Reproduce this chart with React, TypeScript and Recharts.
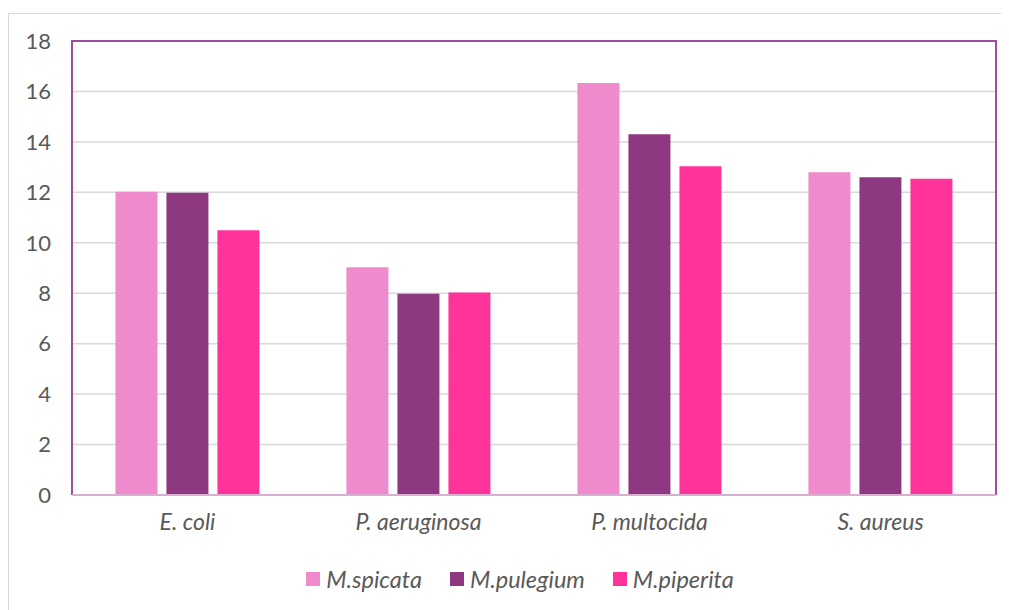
import React from "react";
import {
  BarChart,
  Bar,
  XAxis,
  YAxis,
  CartesianGrid,
  ReferenceArea,
} from "recharts";

// Inhibition zones per bacterium for three Mentha essential oils
const categories = ["E. coli", "P. aeruginosa", "P. multocida", "S. aureus"];
const spicata = [12.02, 9.03, 16.33, 12.8];
const pulegium = [11.98, 7.98, 14.3, 12.6];
const piperita = [10.5, 8.03, 13.03, 12.54];
const yTicks = [0, 2, 4, 6, 8, 10, 12, 14, 16, 18];

const seriesNames = ["M.spicata", "M.pulegium", "M.piperita"];
const seriesKeys = ["spicata", "pulegium", "piperita"];
const seriesColors = ["#EF8ACC", "#8E3882", "#FF3399"];

const data = categories.map((name, i) => ({
  name,
  spicata: spicata[i],
  pulegium: pulegium[i],
  piperita: piperita[i],
}));

const FONT = "Lato, 'Open Sans', sans-serif";
const TEXT = "#595959";
const FRAME = "#9E4E9E";
const FS = 22;

// Plot frame: left, top and right edges (the bottom is the x axis line)
const FrameShape = (props: any) => {
  const { x, y, width, height } = props;
  return (
    <path
      d={`M${x},${y + height} L${x},${y} L${x + width},${y} L${x + width},${y + height}`}
      fill="none"
      stroke={FRAME}
      strokeWidth={2}
    />
  );
};

const LegendRow = () => (
  <div
    style={{
      position: "absolute",
      left: 11,
      top: 551,
      width: 1000,
      display: "flex",
      justifyContent: "center",
      alignItems: "center",
      fontFamily: FONT,
      fontStyle: "italic",
      fontSize: 23.5,
      color: TEXT,
    }}
  >
    {seriesNames.map((n, i) => (
      <div
        key={n}
        style={{ display: "flex", alignItems: "center", marginRight: i < 2 ? 28 : 0 }}
      >
        <span
          style={{
            display: "inline-block",
            width: 14,
            height: 14,
            background: seriesColors[i],
            marginRight: 6,
          }}
        />
        <span>{n}</span>
      </div>
    ))}
  </div>
);

export default function App() {
  return (
    <div
      style={{
        position: "relative",
        marginTop: 5,
        width: 1000,
        height: 600,
        border: "1px solid #d9d9d9",
        background: "#fff",
        overflow: "hidden",
      }}
    >
      <BarChart
        width={1000}
        height={537}
        data={data}
        margin={{ top: 27, right: 13, bottom: 0, left: 0 }}
        barCategoryGap="18.8%"
        barGap={9}
      >
        <CartesianGrid vertical={false} stroke="#d9d9d9" strokeWidth={1.5} />
        <XAxis
          dataKey="name"
          axisLine={{ stroke: "#D9AED3", strokeWidth: 2 }}
          tickLine={false}
          tick={{ fill: TEXT, fontSize: 23, fontFamily: FONT, fontStyle: "italic" }}
          tickMargin={13}
          height={56}
        />
        <YAxis
          domain={[0, 18]}
          ticks={yTicks}
          axisLine={false}
          tickLine={false}
          tick={{ fill: TEXT, fontSize: FS, fontFamily: FONT }}
          tickMargin={15}
          width={63}
          interval={0}
        />
        <ReferenceArea
          x1={categories[0]}
          x2={categories[categories.length - 1]}
          y1={0}
          y2={18}
          ifOverflow="visible"
          shape={FrameShape}
        />
        {seriesKeys.map((k, i) => (
          <Bar
            key={k}
            dataKey={k}
            name={seriesNames[i]}
            fill={seriesColors[i]}
            isAnimationActive={false}
          />
        ))}
      </BarChart>
      <LegendRow />
    </div>
  );
}
